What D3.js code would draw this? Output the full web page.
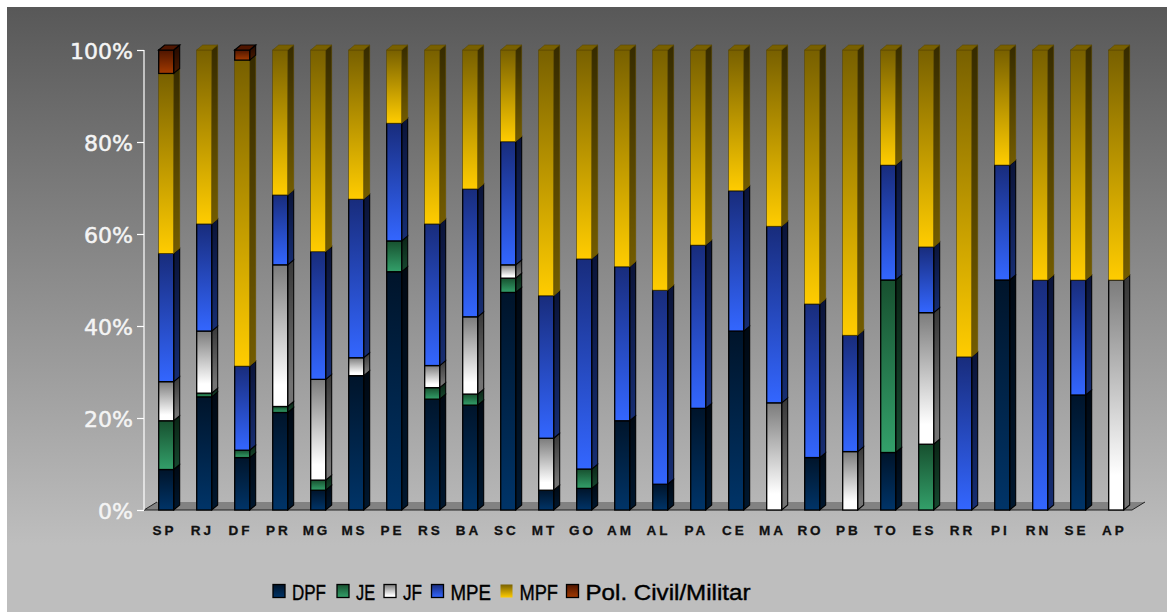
<!DOCTYPE html>
<html><head><meta charset="utf-8">
<script src="https://cdn.jsdelivr.net/npm/d3@7"></script>
<style>html,body{margin:0;padding:0;background:#fff;}svg{display:block;}</style>
</head><body>
<script>
const categories = ["SP","RJ","DF","PR","MG","MS","PE","RS","BA","SC","MT","GO","AM","AL","PA","CE","MA","RO","PB","TO","ES","RR","PI","RN","SE","AP"];
const seriesNames = ["DPF","JE","JF","MPE","MPF","Pol. Civil/Militar"];
const DPF = [8.8,24.6,11.4,21.2,4.3,29.2,51.8,24.1,22.8,47.3,4.3,4.7,19.4,5.6,22.1,38.9,0,11.4,0,12.5,0,0,50,0,25,0];
const JE  = [10.6,0.8,1.6,1.3,2.2,0,6.7,2.5,2.4,3.1,0,4.2,0,0,0,0,0,0,0,37.5,14.3,0,0,0,0,0];
const JF  = [8.5,13.5,0,30.8,21.9,3.9,0,4.8,16.8,2.9,11.3,0,0,0,0,0,23.3,0,12.7,0,28.6,0,0,0,0,50];
const MPE = [27.9,23.3,18.3,15.2,27.8,34.5,25.6,30.8,27.8,26.8,31.0,45.7,33.5,42.2,35.5,30.5,38.4,33.4,25.3,25,14.3,33.3,25,50,25,0];
const MPF = [39.1,37.8,66.5,31.5,43.8,32.4,15.9,37.8,30.2,19.9,53.4,45.4,47.1,52.2,42.4,30.6,38.3,55.2,62.0,25,42.8,66.7,25,50,50,50];
const POL = [5.1,0,2.2,0,0,0,0,0,0,0,0,0,0,0,0,0,0,0,0,0,0,0,0,0,0,0];
const yTicks = [0,0.2,0.4,0.6,0.8,1];

const seriesValues = [DPF,JE,JF,MPE,MPF,POL];
const table = categories.map((c,i)=>{const o={cat:c}; seriesNames.forEach((s,k)=>o[s]=seriesValues[k][i]); return o;});

const W=1167,H=612;
const svg=d3.select("body").append("svg").attr("width",W).attr("height",H);
const defs=svg.append("defs");

const grad = {
  "DPF":["#00142a","#003468"],
  "JE":["#17502f","#33a06a"],
  "JF":["#7c7c7c","#ffffff"],
  "MPE":["#182c7c","#3366ff"],
  "MPF":["#786000","#ffcc00"],
  "Pol. Civil/Militar":["#4e1500","#a33a00"]
};
const gid = s => "g"+seriesNames.indexOf(s);
seriesNames.forEach(s=>{
  const g=defs.append("linearGradient").attr("id",gid(s)).attr("x1",0).attr("y1",0).attr("x2",0).attr("y2",1);
  g.append("stop").attr("offset","0%").attr("stop-color",grad[s][0]);
  g.append("stop").attr("offset", s==="JF"?"85%":"100%").attr("stop-color",grad[s][1]);
});
const bg=defs.append("linearGradient").attr("id","bg").attr("gradientUnits","userSpaceOnUse")
  .attr("x1",0).attr("y1",7).attr("x2",0).attr("y2",545);
bg.append("stop").attr("offset","0%").attr("stop-color","#585858");
bg.append("stop").attr("offset","100%").attr("stop-color","#bebebe");

svg.append("rect").attr("width",W).attr("height",H).attr("fill","#fff");
svg.append("rect").attr("x",7).attr("y",7).attr("width",W-7).attr("height",H-7).attr("fill","url(#bg)");

const x=d3.scaleBand().domain(categories).range([144,1132]).paddingInner(0).paddingOuter(0);
const y=d3.scaleLinear().domain([0,1]).range([510,50]);
const dx=6, dy=5, bw=15, off=14.7;

// floor
const fx0=x.range()[0], fx1=x.range()[1], fy=y(0);
svg.append("path").attr("d",`M${fx0},${fy}L${fx1},${fy}L${fx1+13},${fy-8}L${fx0+13},${fy-8}Z`).attr("fill","#828282");
svg.append("path").attr("d",`M${fx0},${fy}L${fx1},${fy}L${fx1+13},${fy-8}M${fx0},${fy}L${fx0+13},${fy-8}`).attr("fill","none").attr("stroke","#222").attr("stroke-width",1);

// axis
const yAxis=d3.axisLeft(y).tickValues(yTicks).tickFormat(d3.format(".0%")).tickSize(7).tickPadding(4);
const ga=svg.append("g").attr("transform",`translate(${fx0},0)`).call(yAxis);
ga.select(".domain").attr("stroke","#fff").attr("stroke-width",1.2).attr("d",`M0,${y(1)}V${y(0)}`);
ga.selectAll(".tick line").attr("stroke","#fff").attr("stroke-width",1.2);
ga.selectAll(".tick text").attr("fill","#f4f4f4").attr("stroke","#f4f4f4").attr("stroke-width",0.5)
  .attr("font-family","'DejaVu Sans',Verdana,sans-serif").attr("font-size",22).attr("dy","0.4em");

// stacked 3D bars
const stack=d3.stack().keys(seriesNames).offset(d3.stackOffsetExpand);
const layers=stack(table);
const bars=svg.append("g");
categories.forEach((c,i)=>{
  const x0=x(c)+off;
  let topY=null, topS=null;
  layers.forEach(L=>{
    const d=L[i]; const s=L.key;
    if(d[1]-d[0]<=1e-6) return;
    const yt=y(d[1]), yb=y(d[0]);
    const stroke = s==="MPF" ? "#5a4800" : "#000";
    const sw = s==="MPF" ? 0.6 : 1.3;
    const g=bars.append("g");
    const side=`M${x0+bw},${yt}L${x0+bw+dx},${yt-dy}L${x0+bw+dx},${yb-dy}L${x0+bw},${yb}Z`;
    g.append("path").attr("d",side).attr("fill",`url(#${gid(s)})`);
    g.append("path").attr("d",side).attr("fill","#000").attr("fill-opacity",0.55).attr("stroke",stroke).attr("stroke-width",sw*0.8);
    g.append("rect").attr("x",x0).attr("y",yt).attr("width",bw).attr("height",yb-yt)
      .attr("fill",`url(#${gid(s)})`).attr("stroke",stroke).attr("stroke-width",sw);
    topY=yt; topS=s;
  });
  if(topS){
    const top=`M${x0},${topY}L${x0+dx},${topY-dy}L${x0+bw+dx},${topY-dy}L${x0+bw},${topY}Z`;
    const stroke = topS==="MPF" ? "#5a4800" : "#000";
    bars.append("path").attr("d",top).attr("fill",grad[topS][0]).attr("stroke",stroke).attr("stroke-width",topS==="MPF"?0.6:1.2);
  }
});

// x labels
svg.append("g").selectAll("text").data(categories).join("text")
  .attr("x",d=>x(d)+x.bandwidth()/2+1.5).attr("y",535)
  .attr("text-anchor","middle").attr("font-family","'Liberation Sans',Arial,sans-serif")
  .attr("font-weight","bold").attr("font-size",13.5).attr("letter-spacing",3).attr("fill","#111")
  .attr("stroke","#111").attr("stroke-width",0.3)
  .text(d=>d);

// legend
const legX=[273,337,384,431.5,500.5,566.5];
const legLen=[34,19,19,40.5,38.5,165];
const lg=svg.append("g");
seriesNames.forEach((s,k)=>{
  lg.append("rect").attr("x",legX[k]).attr("y",584.5).attr("width",12).attr("height",13)
    .attr("fill",`url(#${gid(s)})`).attr("stroke",s==="MPF"?"none":"#000").attr("stroke-width",1.3);
  lg.append("text").attr("x",legX[k]+19).attr("y",599.5).attr("font-family","'Liberation Sans',Arial,sans-serif")
    .attr("font-size",22).attr("fill","#000").attr("stroke","#000").attr("stroke-width",0.4)
    .attr("textLength",legLen[k]).attr("lengthAdjust","spacingAndGlyphs").text(s);
});
</script>
</body></html>
